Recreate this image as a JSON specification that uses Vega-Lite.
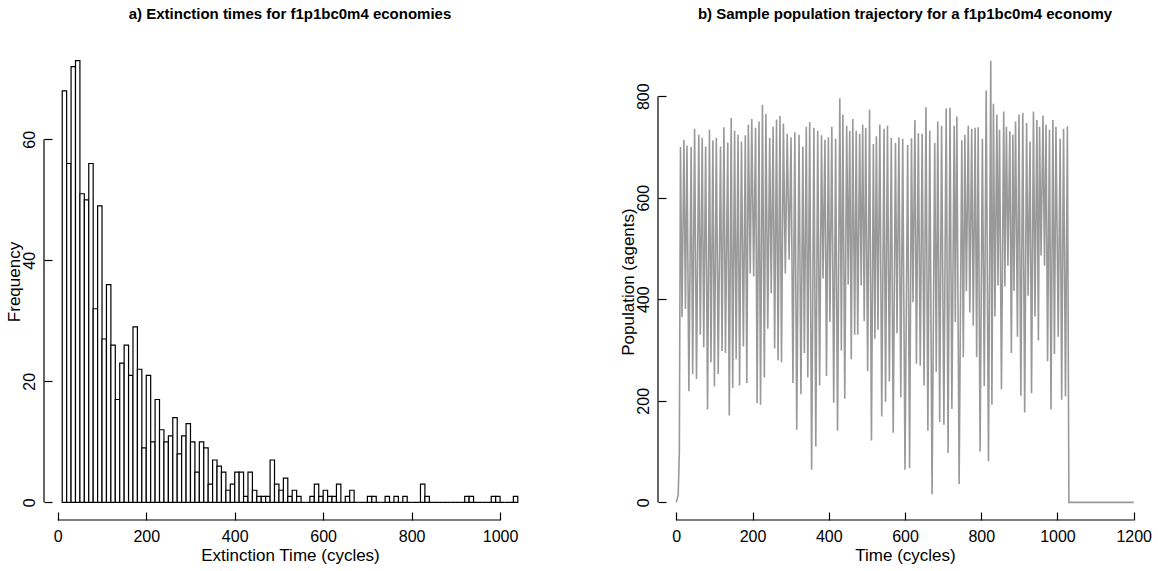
{
  "$schema": "https://vega.github.io/schema/vega-lite/v6.json",
  "padding": {"left": 5, "top": 7, "right": 0, "bottom": 0},
  "background": "white",
  "bounds": "flush",
  "spacing": 122,
  "config": {
    "font": "Liberation Sans",
    "view": {"stroke": null},
    "axis": {"grid": false, "domain": false, "tickSize": -8, "tickColor": "black", "tickWidth": 1.2, "labelFont": "Liberation Sans", "labelFontSize": 16, "labelColor": "black", "titleFont": "Liberation Sans", "titleFontSize": 17, "titleFontWeight": "normal", "titleColor": "black", "labelFlush": false, "labelOverlap": false, "format": "d"},
    "axisX": {"labelPadding": 16.5, "labelBaseline": "top", "titleBaseline": "top", "titleY": 27.5},
    "axisY": {"labelAngle": -90, "labelAlign": "center", "labelBaseline": "bottom", "labelPadding": 15, "titleAngle": -90, "titleBaseline": "middle", "titleX": -30},
    "title": {"font": "Liberation Sans", "fontSize": 15, "fontWeight": "bold", "color": "black", "frame": "group", "anchor": "middle", "baseline": "alphabetic", "offset": 21}
  },
  "hconcat": [
    {
      "width": 492,
      "height": 477,
      "title": "a) Extinction times for f1p1bc0m4 economies",
      "layer": [
        {
          "data": {"values": [
            {"bin_start":10,"bin_end":20,"count":68},{"bin_start":20,"bin_end":30,"count":56},{"bin_start":30,"bin_end":40,"count":72},{"bin_start":40,"bin_end":50,"count":73},{"bin_start":50,"bin_end":60,"count":51},{"bin_start":60,"bin_end":70,"count":50},{"bin_start":70,"bin_end":80,"count":56},{"bin_start":80,"bin_end":90,"count":32},{"bin_start":90,"bin_end":100,"count":49},{"bin_start":100,"bin_end":110,"count":27},
            {"bin_start":110,"bin_end":120,"count":36},{"bin_start":120,"bin_end":130,"count":26},{"bin_start":130,"bin_end":140,"count":17},{"bin_start":140,"bin_end":150,"count":23},{"bin_start":150,"bin_end":160,"count":26},{"bin_start":160,"bin_end":170,"count":21},{"bin_start":170,"bin_end":180,"count":29},{"bin_start":180,"bin_end":190,"count":22},{"bin_start":190,"bin_end":200,"count":9},{"bin_start":200,"bin_end":210,"count":21},
            {"bin_start":210,"bin_end":220,"count":10},{"bin_start":220,"bin_end":230,"count":17},{"bin_start":230,"bin_end":240,"count":12},{"bin_start":240,"bin_end":250,"count":10},{"bin_start":250,"bin_end":260,"count":11},{"bin_start":260,"bin_end":270,"count":14},{"bin_start":270,"bin_end":280,"count":8},{"bin_start":280,"bin_end":290,"count":11},{"bin_start":290,"bin_end":300,"count":13},{"bin_start":300,"bin_end":310,"count":10},
            {"bin_start":310,"bin_end":320,"count":5},{"bin_start":320,"bin_end":330,"count":10},{"bin_start":330,"bin_end":340,"count":9},{"bin_start":340,"bin_end":350,"count":3},{"bin_start":350,"bin_end":360,"count":7},{"bin_start":360,"bin_end":370,"count":6},{"bin_start":370,"bin_end":380,"count":5},{"bin_start":380,"bin_end":390,"count":2},{"bin_start":390,"bin_end":400,"count":3},{"bin_start":400,"bin_end":410,"count":5},
            {"bin_start":410,"bin_end":420,"count":5},{"bin_start":420,"bin_end":430,"count":1},{"bin_start":430,"bin_end":440,"count":5},{"bin_start":440,"bin_end":450,"count":2},{"bin_start":450,"bin_end":460,"count":1},{"bin_start":460,"bin_end":470,"count":1},{"bin_start":470,"bin_end":480,"count":1},{"bin_start":480,"bin_end":490,"count":7},{"bin_start":490,"bin_end":500,"count":3},{"bin_start":500,"bin_end":510,"count":2},
            {"bin_start":510,"bin_end":520,"count":4},{"bin_start":520,"bin_end":530,"count":1},{"bin_start":530,"bin_end":540,"count":2},{"bin_start":540,"bin_end":550,"count":1},{"bin_start":550,"bin_end":560,"count":0},{"bin_start":560,"bin_end":570,"count":0},{"bin_start":570,"bin_end":580,"count":1},{"bin_start":580,"bin_end":590,"count":3},{"bin_start":590,"bin_end":600,"count":1},{"bin_start":600,"bin_end":610,"count":2},
            {"bin_start":610,"bin_end":620,"count":1},{"bin_start":620,"bin_end":630,"count":1},{"bin_start":630,"bin_end":640,"count":3},{"bin_start":640,"bin_end":650,"count":0},{"bin_start":650,"bin_end":660,"count":1},{"bin_start":660,"bin_end":670,"count":2},{"bin_start":670,"bin_end":680,"count":0},{"bin_start":680,"bin_end":690,"count":0},{"bin_start":690,"bin_end":700,"count":0},{"bin_start":700,"bin_end":710,"count":1},
            {"bin_start":710,"bin_end":720,"count":1},{"bin_start":720,"bin_end":730,"count":0},{"bin_start":730,"bin_end":740,"count":0},{"bin_start":740,"bin_end":750,"count":1},{"bin_start":750,"bin_end":760,"count":0},{"bin_start":760,"bin_end":770,"count":1},{"bin_start":770,"bin_end":780,"count":0},{"bin_start":780,"bin_end":790,"count":1},{"bin_start":790,"bin_end":800,"count":0},{"bin_start":800,"bin_end":810,"count":0},
            {"bin_start":810,"bin_end":820,"count":0},{"bin_start":820,"bin_end":830,"count":3},{"bin_start":830,"bin_end":840,"count":1},{"bin_start":840,"bin_end":850,"count":0},{"bin_start":850,"bin_end":860,"count":0},{"bin_start":860,"bin_end":870,"count":0},{"bin_start":870,"bin_end":880,"count":0},{"bin_start":880,"bin_end":890,"count":0},{"bin_start":890,"bin_end":900,"count":0},{"bin_start":900,"bin_end":910,"count":0},
            {"bin_start":910,"bin_end":920,"count":0},{"bin_start":920,"bin_end":930,"count":1},{"bin_start":930,"bin_end":940,"count":1},{"bin_start":940,"bin_end":950,"count":0},{"bin_start":950,"bin_end":960,"count":0},{"bin_start":960,"bin_end":970,"count":0},{"bin_start":970,"bin_end":980,"count":0},{"bin_start":980,"bin_end":990,"count":1},{"bin_start":990,"bin_end":1000,"count":1},{"bin_start":1000,"bin_end":1010,"count":0},
            {"bin_start":1010,"bin_end":1020,"count":0},{"bin_start":1020,"bin_end":1030,"count":0},{"bin_start":1030,"bin_end":1040,"count":1}
          ]},
          "mark": {"type": "rect", "fill": "white", "stroke": "black", "strokeWidth": 1.2},
          "encoding": {
            "x": {"field": "bin_start", "type": "quantitative", "scale": {"domain": [-31.2, 1081.2], "nice": false, "zero": false}, "axis": {"values": [0, 200, 400, 600, 800, 1000], "title": "Extinction Time (cycles)"}},
            "x2": {"field": "bin_end"},
            "y": {"field": "count", "type": "quantitative", "scale": {"domain": [-2.92, 75.92], "nice": false, "zero": false}, "axis": {"values": [0, 20, 40, 60], "title": "Frequency"}},
            "y2": {"datum": 0}
          }
        },
        {
          "data": {"values": [{"axis_line": "y"}]},
          "mark": {"type": "rule", "color": "black", "strokeWidth": 1.2},
          "encoding": {"x": {"datum": -31.2, "type": "quantitative"}, "y": {"datum": 0, "type": "quantitative"}, "y2": {"datum": 60}}
        },
        {
          "data": {"values": [{"axis_line": "x"}]},
          "mark": {"type": "rule", "color": "black", "strokeWidth": 1.2},
          "encoding": {"y": {"datum": -2.92, "type": "quantitative"}, "x": {"datum": 0, "type": "quantitative"}, "x2": {"datum": 1000}}
        }
      ]
    },
    {
      "width": 494,
      "height": 477,
      "title": "b) Sample population trajectory for a f1p1bc0m4 economy",
      "layer": [
        {
          "data": {"values": [
            {"time":0,"population":0},{"time":5,"population":15},{"time":8,"population":100},{"time":11,"population":700},{"time":15,"population":365},{"time":20,"population":714},{"time":24,"population":381},{"time":28,"population":703},{"time":33,"population":219},{"time":39,"population":700},{"time":43,"population":253},{"time":48,"population":736},{"time":53,"population":243},{"time":59,"population":724},{"time":63,"population":330},{"time":68,"population":718},{"time":72,"population":305},{"time":77,"population":701},{"time":82,"population":183},{"time":87,"population":734},{"time":91,"population":276},{"time":96,"population":713},{"time":100,"population":228},{"time":105,"population":718},{"time":110,"population":253},{"time":116,"population":701},{"time":120,"population":298},{"time":125,"population":739},{"time":129,"population":294},{"time":135,"population":709},{"time":139,"population":171},{"time":144,"population":757},{"time":148,"population":225},{"time":153,"population":732},{"time":157,"population":282},{"time":162,"population":724},{"time":166,"population":230},{"time":171,"population":711},{"time":176,"population":307},{"time":181,"population":723},{"time":185,"population":235},{"time":189,"population":744},{"time":194,"population":451},{"time":198,"population":755},{"time":203,"population":445},{"time":208,"population":738},{"time":212,"population":195},{"time":217,"population":750},{"time":221,"population":192},{"time":226,"population":783},{"time":231,"population":246},{"time":235,"population":765},{"time":240,"population":342},{"time":245,"population":718},{"time":249,"population":412},{"time":254,"population":740},{"time":258,"population":303},{"time":263,"population":754},{"time":267,"population":280},{"time":272,"population":761},{"time":276,"population":276},{"time":281,"population":746},{"time":286,"population":451},{"time":291,"population":726},{"time":296,"population":478},{"time":301,"population":719},{"time":306,"population":235},{"time":311,"population":729},{"time":316,"population":143},{"time":322,"population":724},{"time":327,"population":213},{"time":332,"population":701},{"time":336,"population":294},{"time":341,"population":740},{"time":345,"population":246},{"time":350,"population":749},{"time":355,"population":64},{"time":361,"population":738},{"time":366,"population":110},{"time":371,"population":732},{"time":376,"population":230},{"time":381,"population":723},{"time":385,"population":441},{"time":390,"population":714},{"time":394,"population":249},{"time":399,"population":719},{"time":403,"population":355},{"time":408,"population":740},{"time":413,"population":196},{"time":418,"population":716},{"time":423,"population":141},
            {"time":429,"population":796},{"time":433,"population":299},{"time":437,"population":764},{"time":442,"population":204},{"time":447,"population":742},{"time":451,"population":429},{"time":455,"population":732},{"time":459,"population":282},{"time":463,"population":755},{"time":468,"population":330},{"time":472,"population":732},{"time":476,"population":330},{"time":481,"population":726},{"time":485,"population":427},{"time":489,"population":744},{"time":493,"population":357},{"time":497,"population":738},{"time":502,"population":258},{"time":507,"population":774},{"time":512,"population":122},{"time":517,"population":706},{"time":521,"population":322},{"time":525,"population":721},{"time":529,"population":340},{"time":534,"population":744},{"time":539,"population":169},{"time":545,"population":736},{"time":549,"population":198},{"time":554,"population":742},{"time":559,"population":238},{"time":564,"population":718},{"time":569,"population":137},{"time":575,"population":708},{"time":579,"population":333},{"time":584,"population":719},{"time":589,"population":207},{"time":594,"population":716},{"time":600,"population":64},{"time":607,"population":704},{"time":612,"population":67},{"time":617,"population":717},{"time":621,"population":394},{"time":626,"population":753},{"time":630,"population":273},{"time":635,"population":727},{"time":640,"population":269},{"time":645,"population":726},{"time":650,"population":230},{"time":655,"population":778},{"time":660,"population":141},{"time":665,"population":732},{"time":671,"population":16},{"time":678,"population":708},{"time":682,"population":257},{"time":686,"population":750},{"time":691,"population":158},{"time":696,"population":742},{"time":702,"population":153},{"time":708,"population":776},{"time":713,"population":97},{"time":718,"population":777},{"time":723,"population":184},{"time":729,"population":742},{"time":732,"population":355},{"time":736,"population":760},{"time":742,"population":36},{"time":749,"population":713},{"time":753,"population":286},{"time":757,"population":724},{"time":761,"population":416},{"time":766,"population":742},{"time":770,"population":374},{"time":775,"population":736},{"time":779,"population":348},{"time":784,"population":738},{"time":788,"population":286},{"time":792,"population":739},{"time":797,"population":100},
            {"time":803,"population":716},{"time":808,"population":229},{"time":813,"population":811},{"time":819,"population":81},{"time":825,"population":870},{"time":828,"population":192},{"time":832,"population":785},{"time":836,"population":366},{"time":841,"population":764},{"time":844,"population":427},{"time":848,"population":734},{"time":853,"population":223},{"time":859,"population":770},{"time":862,"population":425},{"time":866,"population":740},{"time":870,"population":466},{"time":875,"population":731},{"time":879,"population":294},{"time":883,"population":724},{"time":886,"population":417},{"time":890,"population":750},{"time":895,"population":326},{"time":899,"population":764},{"time":904,"population":210},{"time":909,"population":767},{"time":914,"population":177},{"time":919,"population":747},{"time":923,"population":407},{"time":928,"population":711},{"time":932,"population":215},{"time":937,"population":770},{"time":941,"population":366},{"time":946,"population":753},{"time":950,"population":319},{"time":953,"population":740},{"time":957,"population":486},{"time":962,"population":762},{"time":966,"population":466},{"time":970,"population":744},{"time":974,"population":278},{"time":979,"population":734},{"time":983,"population":183},{"time":988,"population":753},{"time":992,"population":292},{"time":996,"population":740},{"time":1002,"population":326},{"time":1007,"population":716},{"time":1011,"population":202},{"time":1016,"population":736},{"time":1021,"population":209},{"time":1026,"population":741},{"time":1030,"population":0},{"time":1200,"population":0}
          ]},
          "mark": {"type": "line", "color": "#999999", "strokeWidth": 1.6},
          "encoding": {
            "x": {"field": "time", "type": "quantitative", "scale": {"domain": [-48, 1248], "nice": false, "zero": false}, "axis": {"values": [0, 200, 400, 600, 800, 1000, 1200], "title": "Time (cycles)"}},
            "y": {"field": "population", "type": "quantitative", "scale": {"domain": [-34.8, 904.8], "nice": false, "zero": false}, "axis": {"values": [0, 200, 400, 600, 800], "title": "Population (agents)"}}
          }
        },
        {
          "data": {"values": [{"axis_line": "y"}]},
          "mark": {"type": "rule", "color": "black", "strokeWidth": 1.2},
          "encoding": {"x": {"datum": -48, "type": "quantitative"}, "y": {"datum": 0, "type": "quantitative"}, "y2": {"datum": 800}}
        },
        {
          "data": {"values": [{"axis_line": "x"}]},
          "mark": {"type": "rule", "color": "black", "strokeWidth": 1.2},
          "encoding": {"y": {"datum": -34.8, "type": "quantitative"}, "x": {"datum": 0, "type": "quantitative"}, "x2": {"datum": 1200}}
        }
      ]
    }
  ]
}
